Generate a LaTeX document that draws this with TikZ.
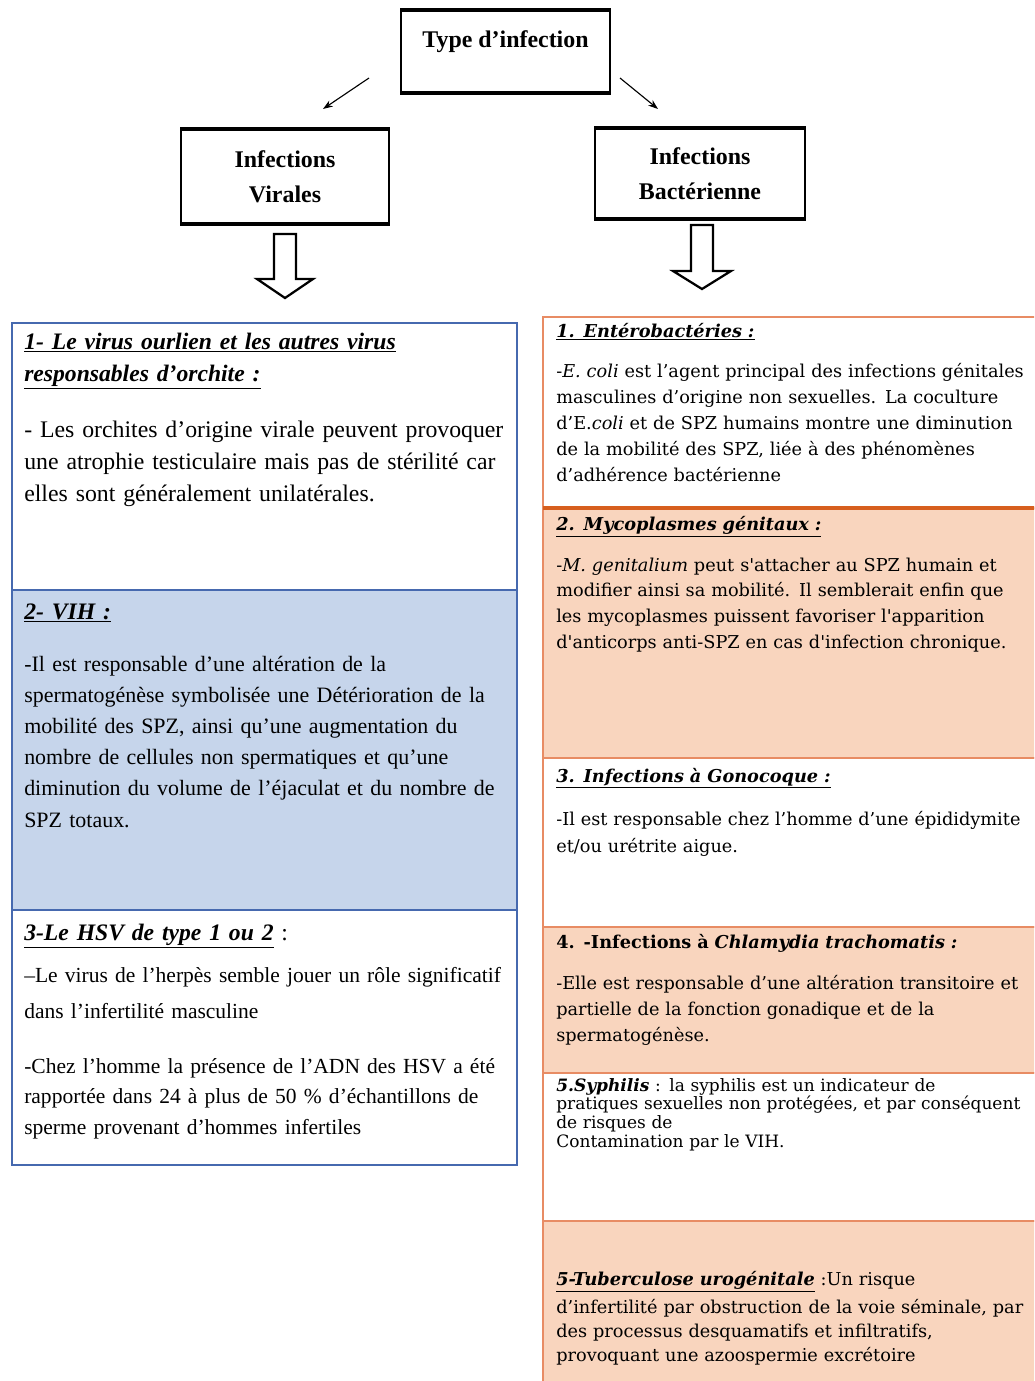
\documentclass[tikz,border=0pt]{standalone}
\usepackage{fontspec}
\setmainfont{Liberation Serif}
\newfontfamily\bkfont{DejaVu Serif}
\usetikzlibrary{arrows.meta}

\definecolor{bleucadre}{RGB}{70,105,175}
\definecolor{bleufond}{RGB}{198,213,235}
\definecolor{orangecadre}{RGB}{232,140,100}
\definecolor{orangefonce}{RGB}{215,95,30}
\definecolor{peche}{RGB}{249,213,190}

\begin{document}
\begin{tikzpicture}[x=0.025cm, y=-0.025cm,
					tbox/.style={draw, line width=1.2pt, align=center, inner sep=0pt, font=\fontsize{17}{25}\selectfont\bfseries},
					bord/.style={line width=3pt},
					fleche/.style={-{Stealth[length=7pt, width=5pt]}, line width=0.8pt},
					creux/.style={draw, line width=1.6pt, fill=white, line join=miter},
					vcadre/.style={draw=bleucadre, line width=1.5pt},
					ocadre/.style={draw=orangecadre, line width=1.2pt},
					vtitre/.style={anchor=base west, inner sep=0pt, text width=520*0.025cm, align=left, font=\fontsize{16.8}{22.8}\selectfont\bfseries\itshape},
					vtexte/.style={anchor=base west, inner sep=0pt, text width=520*0.025cm, align=left, font=\fontsize{15.6}{22.2}\selectfont},
					btitre/.style={anchor=base west, inner sep=0pt, text width=560*0.025cm, align=left, font=\bkfont\fontsize{12.6}{18}\selectfont\bfseries\itshape},
					btexte/.style={anchor=base west, inner sep=0pt, text width=560*0.025cm, align=left, font=\bkfont\fontsize{12.6}{18.5}\selectfont}
				]
				\def\px{0.025cm}   % un pixel de l'image
				\clip (0,0) rectangle (1034,1381);

				% --- Boîtes du haut ---
				\node[tbox, minimum width=209*\px, minimum height=81*\px] (type) at (505.5,51.5) {};
				\node[anchor=base, font=\fontsize{17}{25}\selectfont\bfseries] (typet) at (505.5,47) {Type d’infection};
				\node[tbox, minimum width=208*\px, minimum height=93*\px] (virales) at (285,176.5) {Infections\\Virales};
				\node[tbox, minimum width=210*\px, minimum height=89*\px] (bact) at (700,173.5) {Infections\\Bactérienne};
				\foreach \n in {type,virales,bact}{
					\draw[bord] (\n.north west) -- (\n.north east);
					\draw[bord] (\n.south west) -- (\n.south east);
				}

				% --- Flèches ---
				\coordinate (g1) at (369,78);
				\coordinate (g2) at (323,109);
				\coordinate (d1) at (620,78);
				\coordinate (d2) at (658,109);
				\draw[fleche] (g1) -- (g2);
				\draw[fleche] (d1) -- (d2);
				\draw[creux] (274,234) -- (296,234) -- (296,279) -- (313,279) -- (285,298) -- (257,279) -- (274,279) -- cycle;
				\draw[creux] (691,225) -- (713,225) -- (713,271) -- (731,271) -- (702,289) -- (673,271) -- (691,271) -- cycle;

				% --- Colonne de gauche (virales) ---
				\foreach \ya/\yb/\c in {323/590/white, 590/910/bleufond, 910/1165/white}
					\filldraw[vcadre, fill=\c] (12,\ya) rectangle (517,\yb);

				\node[vtitre] (v1titre) at (24,349) {\underline{1- Le virus ourlien et les autres virus}\\\underline{responsables d’orchite :}};
				\node[vtexte, font=\fontsize{16.9}{22.8}\selectfont] (v1texte) at (24,437) {- Les orchites d’origine virale peuvent provoquer\\une atrophie testiculaire mais pas de stérilité car\\elles sont généralement unilatérales.};

				\node[vtitre] (v2titre) at (24,619) {\underline{2- VIH :}};
				\node[vtexte] (v2texte) at (24,671) {-Il est responsable d’une altération de la\\spermatogénèse symbolisée une Détérioration de la\\mobilité des SPZ, ainsi qu’une augmentation du\\nombre de cellules non spermatiques et qu’une\\diminution du volume de l’éjaculat et du nombre de\\SPZ totaux.};

				\node[vtitre] (v3titre) at (24,940) {\underline{3-Le HSV de type 1 ou 2}\textup{\mdseries\ :}};
				\node[vtexte, font=\fontsize{15.3}{26.3}\selectfont] (v3texte) at (24,982) {–Le virus de l'herpès semble jouer un rôle significatif\\dans l'infertilité masculine};
				\node[vtexte, font=\fontsize{15.3}{22}\selectfont] (v3suite) at (24,1073) {-Chez l’homme la présence de l’ADN des HSV a été\\rapportée dans 24 à plus de 50 \% d’échantillons de\\sperme provenant d’hommes infertiles};

				% --- Colonne de droite (bactériennes) ---
				\foreach \ya/\yb/\c in {317/508/white, 508/758/peche, 758/927/white, 927/1073/peche, 1073/1221/white, 1221/1400/peche}
					\filldraw[ocadre, fill=\c] (543,\ya) rectangle (1045,\yb);
				\draw[orangefonce, line width=2.2pt] (543,508) -- (1045,508);

				\node[btitre] (b1titre) at (556,337) {\underline{1. Entérobactéries :}};
				\node[btexte] (b1texte) at (556,377) {-\textit{E. coli} est l’agent principal des infections génitales\\masculines d’origine non sexuelles. La coculture\\d’E.\textit{coli} et de SPZ humains montre une diminution\\de la mobilité des SPZ, liée à des phénomènes\\d’adhérence bactérienne};

				\node[btitre] (b2titre) at (556,530) {\underline{2. Mycoplasmes génitaux :}};
				\node[btexte, font=\bkfont\fontsize{12.6}{18.3}\selectfont] (b2texte) at (556,571) {-\textit{M. genitalium} peut s'attacher au SPZ humain et\\modifier ainsi sa mobilité. Il semblerait enfin que\\les mycoplasmes puissent favoriser l'apparition\\d'anticorps anti-SPZ en cas d'infection chronique.};

				\node[btitre] (b3titre) at (556,782) {\underline{3. Infections à Gonocoque :}};
				\node[btexte, font=\bkfont\fontsize{12.6}{19.9}\selectfont] (b3texte) at (556,825) {-Il est responsable chez l’homme d’une épididymite\\et/ou urétrite aigue.};

				\node[btitre, font=\bkfont\fontsize{12.6}{18}\selectfont\bfseries] (b4titre) at (556,948) {4. -Infections à \textit{Chlamydia trachomatis :}};
				\node[btexte] (b4texte) at (556,989) {-Elle est responsable d’une altération transitoire et\\partielle de la fonction gonadique et de la\\spermatogénèse.};

				\node[btexte, font=\bkfont\fontsize{12.1}{13.3}\selectfont] (b5texte) at (556,1091) {\textbf{\textit{5.Syphilis}} : la syphilis est un indicateur de\\pratiques sexuelles non protégées, et par conséquent\\de risques de\\Contamination par le VIH.};

				\node[btexte] (b6titre) at (556,1285) {\textbf{\textit{\underline{5-Tuberculose urogénitale}}} :Un risque};
				\node[btexte, font=\bkfont\fontsize{12.6}{17.4}\selectfont] (b6texte) at (556,1313) {d’infertilité par obstruction de la voie séminale, par\\des processus desquamatifs et infiltratifs,\\provoquant une azoospermie excrétoire};

			\end{tikzpicture}
\end{document}
